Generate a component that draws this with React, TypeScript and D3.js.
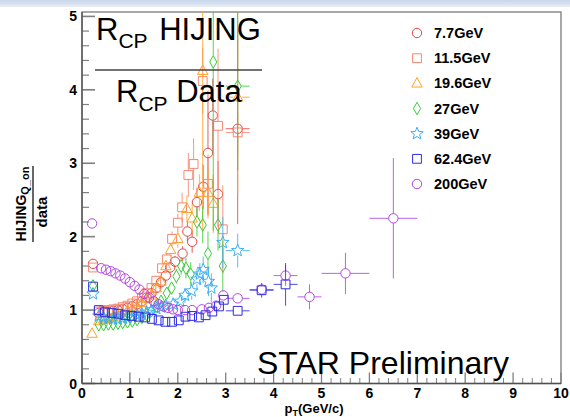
import React from 'react';
import * as d3 from 'd3';

// energies, drawn in this order (62.4 last so the blue squares sit on top)
const labels = ['7.7GeV', '11.5GeV', '19.6GeV', '27GeV', '39GeV', '62.4GeV', '200GeV'];
const colors = ['#e2454a', '#f7866f', '#ffa127', '#35cc35', '#3daef5', '#2d2de6', '#b347e0'];
const shapes = ['circle', 'square', 'triangle', 'diamond', 'star', 'square', 'circle'];

// 7.7 GeV
const pt77 = [0.23, 0.35, 0.45, 0.55, 0.65, 0.75, 0.85, 0.95, 1.05, 1.15, 1.25, 1.35, 1.45, 1.55, 1.65, 1.75, 1.84, 1.94, 2.1, 2.2, 2.3, 2.4, 2.53, 2.63, 2.73, 2.84, 3.25];
const val77 = [1.63, 0.96, 0.97, 0.98, 0.99, 1.0, 1.01, 1.03, 1.05, 1.08, 1.12, 1.17, 1.23, 1.3, 1.38, 1.47, 1.58, 1.66, 1.77, 2.07, 1.93, 2.47, 2.68, 3.14, 3.65, 2.58, 3.47];
const err77 = [0.03, 0.01, 0.01, 0.01, 0.01, 0.01, 0.01, 0.01, 0.02, 0.02, 0.02, 0.03, 0.03, 0.04, 0.05, 0.06, 0.07, 0.08, 0.1, 0.13, 0.15, 0.2, 0.3, 0.85, 0.5, 0.45, 1.3];
const xerr77 = [0, 0, 0, 0, 0, 0, 0, 0, 0, 0, 0, 0, 0, 0, 0, 0, 0, 0, 0, 0, 0, 0, 0, 0, 0, 0, 0.25];

// 11.5 GeV
const pt115 = [0.23, 0.35, 0.45, 0.55, 0.65, 0.75, 0.85, 0.95, 1.05, 1.15, 1.25, 1.35, 1.45, 1.55, 1.67, 1.77, 1.88, 2.0, 2.09, 2.22, 2.33, 2.52, 2.63, 2.84, 2.94, 3.25];
const val115 = [1.58, 0.98, 0.99, 1.0, 1.01, 1.02, 1.04, 1.06, 1.09, 1.12, 1.17, 1.23, 1.3, 1.4, 1.57, 1.69, 1.97, 2.19, 2.4, 2.84, 2.99, 4.12, 2.72, 3.51, 2.1, 3.42];
const err115 = [0.03, 0.01, 0.01, 0.01, 0.01, 0.01, 0.01, 0.02, 0.02, 0.02, 0.03, 0.03, 0.04, 0.05, 0.06, 0.08, 0.1, 0.12, 0.2, 0.3, 0.35, 0.45, 0.4, 1.05, 0.6, 0.3];
const xerr115 = [0, 0, 0, 0, 0, 0, 0, 0, 0, 0, 0, 0, 0, 0, 0, 0, 0, 0, 0, 0, 0, 0, 0, 0, 0, 0.25];

// 19.6 GeV
const pt196 = [0.21, 0.35, 0.45, 0.55, 0.65, 0.75, 0.85, 0.95, 1.05, 1.15, 1.25, 1.35, 1.45, 1.55, 1.65, 1.75, 1.85, 2.0, 2.19, 2.3, 2.45, 2.52, 2.63, 2.74, 3.25];
const val196 = [0.68, 0.85, 0.87, 0.89, 0.91, 0.93, 0.96, 0.99, 1.02, 1.05, 1.1, 1.15, 1.2, 1.3, 1.39, 1.6, 1.82, 1.97, 2.38, 2.25, 2.6, 4.26, 2.6, 2.45, 3.9];
const err196 = [0.03, 0.01, 0.01, 0.01, 0.01, 0.01, 0.01, 0.01, 0.02, 0.02, 0.02, 0.03, 0.04, 0.05, 0.06, 0.07, 0.09, 0.12, 0.18, 0.2, 0.25, 2.2, 0.35, 0.4, 1.32];
const xerr196 = [0, 0, 0, 0, 0, 0, 0, 0, 0, 0, 0, 0, 0, 0, 0, 0, 0, 0, 0, 0, 0, 0, 0, 0, 0.25];

// 27 GeV
const pt27 = [0.23, 0.35, 0.45, 0.55, 0.65, 0.75, 0.85, 0.95, 1.05, 1.15, 1.25, 1.35, 1.45, 1.55, 1.65, 1.77, 1.87, 1.97, 2.07, 2.17, 2.27, 2.4, 2.52, 2.63, 2.74, 2.84, 2.94, 3.25];
const val27 = [1.33, 0.8, 0.8, 0.81, 0.81, 0.82, 0.83, 0.84, 0.85, 0.87, 0.9, 0.94, 0.99, 1.05, 1.12, 1.23, 1.3, 1.46, 1.6, 1.57, 1.49, 2.2, 2.16, 1.77, 4.38, 2.16, 1.6, 4.05];
const err27 = [0.03, 0.01, 0.01, 0.01, 0.01, 0.01, 0.01, 0.01, 0.02, 0.02, 0.02, 0.03, 0.03, 0.04, 0.05, 0.06, 0.08, 0.1, 0.12, 0.14, 0.16, 0.2, 0.25, 0.3, 2.3, 0.35, 0.35, 1.15];
const xerr27 = [0, 0, 0, 0, 0, 0, 0, 0, 0, 0, 0, 0, 0, 0, 0, 0, 0, 0, 0, 0, 0, 0, 0, 0, 0, 0, 0, 0.25];

// 39 GeV
const pt39 = [0.23, 0.35, 0.45, 0.55, 0.65, 0.75, 0.85, 0.95, 1.05, 1.15, 1.25, 1.35, 1.45, 1.55, 1.65, 1.75, 1.9, 2.05, 2.15, 2.29, 2.4, 2.46, 2.53, 2.64, 2.7, 2.94, 3.25];
const val39 = [1.22, 0.92, 0.9, 0.89, 0.88, 0.88, 0.89, 0.9, 0.91, 0.93, 0.95, 0.97, 1.0, 1.02, 1.04, 1.06, 1.08, 1.12, 1.2, 1.26, 1.42, 1.49, 1.55, 1.39, 1.3, 1.92, 1.81];
const err39 = [0.03, 0.01, 0.01, 0.01, 0.01, 0.01, 0.01, 0.01, 0.02, 0.02, 0.02, 0.03, 0.03, 0.04, 0.05, 0.06, 0.07, 0.08, 0.1, 0.12, 0.14, 0.15, 0.18, 0.2, 0.2, 0.35, 0.23];
const xerr39 = [0, 0, 0, 0, 0, 0, 0, 0, 0, 0, 0, 0, 0, 0, 0, 0, 0, 0, 0, 0, 0, 0, 0, 0, 0, 0, 0.25];

// 62.4 GeV
const pt624 = [0.23, 0.35, 0.48, 0.62, 0.76, 0.9, 1.04, 1.18, 1.32, 1.46, 1.6, 1.74, 1.88, 2.02, 2.16, 2.3, 2.44, 2.58, 2.72, 2.86, 2.96, 3.25, 3.75, 4.25];
const val624 = [1.32, 1.0, 0.97, 0.96, 0.95, 0.93, 0.92, 0.91, 0.9, 0.88, 0.86, 0.84, 0.84, 0.86, 0.91, 0.92, 0.9, 0.93, 0.98, 1.05, 1.14, 0.99, 1.27, 1.35];
const err624 = [0.02, 0.01, 0.01, 0.01, 0.01, 0.01, 0.01, 0.01, 0.01, 0.01, 0.01, 0.02, 0.02, 0.02, 0.02, 0.03, 0.03, 0.03, 0.04, 0.05, 0.05, 0.04, 0.1, 0.29];
const xerr624 = [0, 0, 0, 0, 0, 0, 0, 0, 0, 0, 0, 0, 0, 0, 0, 0, 0, 0, 0, 0, 0, 0.25, 0.25, 0.25];

// 200 GeV
const pt200 = [0.21, 0.4, 0.5, 0.6, 0.7, 0.8, 0.9, 1.0, 1.1, 1.2, 1.3, 1.4, 1.5, 1.6, 1.7, 1.8, 1.9, 2.0, 2.15, 2.3, 2.5, 2.65, 2.8, 2.95, 3.25, 3.75, 4.25, 4.75, 5.5, 6.5];
const val200 = [2.18, 1.57, 1.55, 1.53, 1.5, 1.47, 1.43, 1.38, 1.33, 1.28, 1.22, 1.17, 1.12, 1.08, 1.05, 1.03, 1.01, 1.0, 1.0, 1.0, 1.01, 1.03, 1.06, 1.2, 1.16, 1.28, 1.47, 1.18, 1.5, 2.25];
const err200 = [0.02, 0.01, 0.01, 0.01, 0.01, 0.01, 0.01, 0.01, 0.01, 0.01, 0.01, 0.01, 0.01, 0.01, 0.01, 0.01, 0.01, 0.01, 0.02, 0.02, 0.02, 0.03, 0.03, 0.04, 0.05, 0.07, 0.14, 0.17, 0.28, 0.82];
const xerr200 = [0, 0, 0, 0, 0, 0, 0, 0, 0, 0, 0, 0, 0, 0, 0, 0, 0, 0, 0, 0, 0, 0, 0, 0, 0.25, 0.25, 0.25, 0.25, 0.5, 0.5];

const xTicks = [0, 1, 2, 3, 4, 5, 6, 7, 8, 9, 10];
const yTicks = [0, 1, 2, 3, 4, 5];

const series = [
  { label: '7.7GeV', pt: pt77, val: val77, err: err77, xerr: xerr77, idx: 0 },
  { label: '11.5GeV', pt: pt115, val: val115, err: err115, xerr: xerr115, idx: 1 },
  { label: '19.6GeV', pt: pt196, val: val196, err: err196, xerr: xerr196, idx: 2 },
  { label: '27GeV', pt: pt27, val: val27, err: err27, xerr: xerr27, idx: 3 },
  { label: '39GeV', pt: pt39, val: val39, err: err39, xerr: xerr39, idx: 4 },
  { label: '200GeV', pt: pt200, val: val200, err: err200, xerr: xerr200, idx: 6 },
  { label: '62.4GeV', pt: pt624, val: val624, err: err624, xerr: xerr624, idx: 5 },
];

const FONT = 'Liberation Sans, Arial, Helvetica, sans-serif';

// open marker outlines, centred on 0,0
function markerPath(shape: string) {
  if (shape === 'circle') {
    const p = d3.path();
    p.arc(0, 0, 4.7, 0, Math.PI * 2);
    p.closePath();
    return p.toString();
  }
  if (shape === 'square') return 'M-4.4,-4.4H4.4V4.4H-4.4Z';
  if (shape === 'triangle') return 'M0,-5.8L5.2,3.7H-5.2Z';
  if (shape === 'diamond') return 'M0,-6.2L3.6,0L0,6.2L-3.6,0Z';
  // star
  const pts: string[] = [];
  for (let i = 0; i < 10; i++) {
    const r = i % 2 === 0 ? 6.5 : 2.8;
    const a = -Math.PI / 2 + (i * Math.PI) / 5;
    pts.push(`${(r * Math.cos(a)).toFixed(2)},${(r * Math.sin(a)).toFixed(2)}`);
  }
  return 'M' + pts.join('L') + 'Z';
}

const gapY: Record<string, number> = { circle: 4.7, square: 4.4, triangle: 4.7, diamond: 6.2, star: 5 };
const gapX: Record<string, number> = { circle: 4.7, square: 4.4, triangle: 4.6, diamond: 3.6, star: 5 };

export default function App() {
  const width = 570;
  const height = 417;
  const left = 82, right = 561, top = 12, bottom = 383.5;

  const x = d3.scaleLinear().domain([0, 10]).range([left, right]);
  // the frame top sits a little above 5
  const y = d3.scaleLinear().domain([0, 5.06]).range([bottom, top]);

  const xMinor = d3.range(0, 10.001, 0.2).filter(v => Math.abs(v - Math.round(v)) > 1e-6);
  const yMinor = d3.range(0, 5.001, 0.2).filter(v => Math.abs(v - Math.round(v)) > 1e-6);

  const legendY = d3.scaleLinear().domain([0, 6]).range([33, 184]);
  const legendOrder = [0, 1, 2, 3, 4, 5, 6];

  return (
    <svg width={width} height={height} style={{ position: 'absolute', left: 0, top: 0, background: '#fff' }}
      fontFamily={FONT}>
      <defs>
        <linearGradient id="band" x1="0" x2="0" y1="0" y2="1">
          <stop offset="0" stopColor="#c6d6ea" />
          <stop offset="1" stopColor="#e8eef6" />
        </linearGradient>
        <clipPath id="plot">
          <rect x={left} y={top} width={right - left} height={bottom - top} />
        </clipPath>
      </defs>
      <rect x={0} y={0} width={width} height={7} fill="url(#band)" />

      {/* frame */}
      <rect x={left} y={top} width={right - left} height={bottom - top} fill="none" stroke="#707070" strokeWidth={1.2} />

      {/* ticks */}
      <g stroke="#808080">
        {xTicks.map(t => (
          <line key={'xt' + t} x1={x(t)} x2={x(t)} y1={bottom} y2={bottom - 11} strokeWidth={1.3} />
        ))}
        {xMinor.map(t => (
          <line key={'xm' + t} x1={x(t)} x2={x(t)} y1={bottom} y2={bottom - 5.5} strokeWidth={1} />
        ))}
        {yTicks.map(t => (
          <line key={'yt' + t} x1={left} x2={left + 13} y1={y(t)} y2={y(t)} strokeWidth={1.6} />
        ))}
        {yMinor.map(t => (
          <line key={'ym' + t} x1={left} x2={left + 7} y1={y(t)} y2={y(t)} strokeWidth={1.2} />
        ))}
      </g>
      <line x1={left} x2={left} y1={top} y2={bottom} stroke="#505050" strokeWidth={1.3} />
      <line x1={left} x2={right} y1={bottom} y2={bottom} stroke="#505050" strokeWidth={1.3} />

      {/* tick labels */}
      <g fontWeight="bold" fontSize={14} fill="#000">
        {xTicks.map(t => (
          <text key={'xl' + t} x={x(t)} y={398} textAnchor="middle">{t}</text>
        ))}
        {yTicks.map(t => (
          <text key={'yl' + t} x={77} y={y(t) + 5} textAnchor="end">{t}</text>
        ))}
      </g>

      {/* axis titles */}
      <text x={314} y={413} textAnchor="middle" fontWeight="bold" fontSize={13}>
        p<tspan fontSize={9} dy={3}>T</tspan><tspan dy={-3}>(GeV/c)</tspan>
      </text>
      <g transform="translate(33,0) rotate(-90)" fontWeight="bold">
        <text x={-204} y={-7} textAnchor="middle" fontSize={14}>
          HIJING<tspan fontSize={11} dy={3}>Q_on</tspan>
        </text>
        <line x1={-242} x2={-166} y1={0} y2={0} stroke="#000" strokeWidth={1.2} />
        <text x={-212} y={14} textAnchor="middle" fontSize={15}>data</text>
      </g>

      {/* data */}
      <g clipPath="url(#plot)">
        {series.map(s => {
          const c = colors[s.idx];
          const shape = shapes[s.idx];
          const d = markerPath(shape);
          const gy = gapY[shape];
          const gx = gapX[shape];
          return (
            <g key={s.label}>
              {s.pt.map((p, i) => {
                const cx = x(p);
                const cy = y(s.val[i]);
                const yt = y(s.val[i] + s.err[i]);
                const yb = y(s.val[i] - s.err[i]);
                const xl = x(p - s.xerr[i]);
                const xr = x(p + s.xerr[i]);
                return (
                  <g key={i} stroke={c} fill="none" strokeWidth={1}>
                    {cy - yt > gy && <line x1={cx} x2={cx} y1={yt} y2={cy - gy} strokeOpacity={0.85} />}
                    {yb - cy > gy && <line x1={cx} x2={cx} y1={cy + gy} y2={yb} strokeOpacity={0.85} />}
                    {cx - xl > gx && <line x1={xl} x2={cx - gx} y1={cy} y2={cy} strokeOpacity={0.85} />}
                    {xr - cx > gx && <line x1={cx + gx} x2={xr} y1={cy} y2={cy} strokeOpacity={0.85} />}
                    <path d={d} transform={`translate(${cx},${cy})`} />
                  </g>
                );
              })}
            </g>
          );
        })}
      </g>

      {/* big labels */}
      <text x={96} y={40} fontSize={31}>R<tspan fontSize={21} dy={8}>CP</tspan><tspan dy={-8} dx={3}> HIJING</tspan></text>
      <line x1={95} x2={262} y1={70} y2={70} stroke="#444" strokeWidth={1.5} />
      <text x={116} y={102} fontSize={31}>R<tspan fontSize={21} dy={9}>CP</tspan><tspan dy={-9}> Data</tspan></text>
      <text x={257} y={374} fontSize={32}>STAR Preliminary</text>

      {/* legend */}
      <g>
        {legendOrder.map(i => (
          <g key={labels[i]} transform={`translate(417,${legendY(i)})`}>
            <path d={markerPath(shapes[i])} fill="none" stroke={colors[i]} strokeWidth={1} />
            <text x={17} y={5} fontSize={14.5} fontWeight="bold">{labels[i]}</text>
          </g>
        ))}
      </g>
    </svg>
  );
}
